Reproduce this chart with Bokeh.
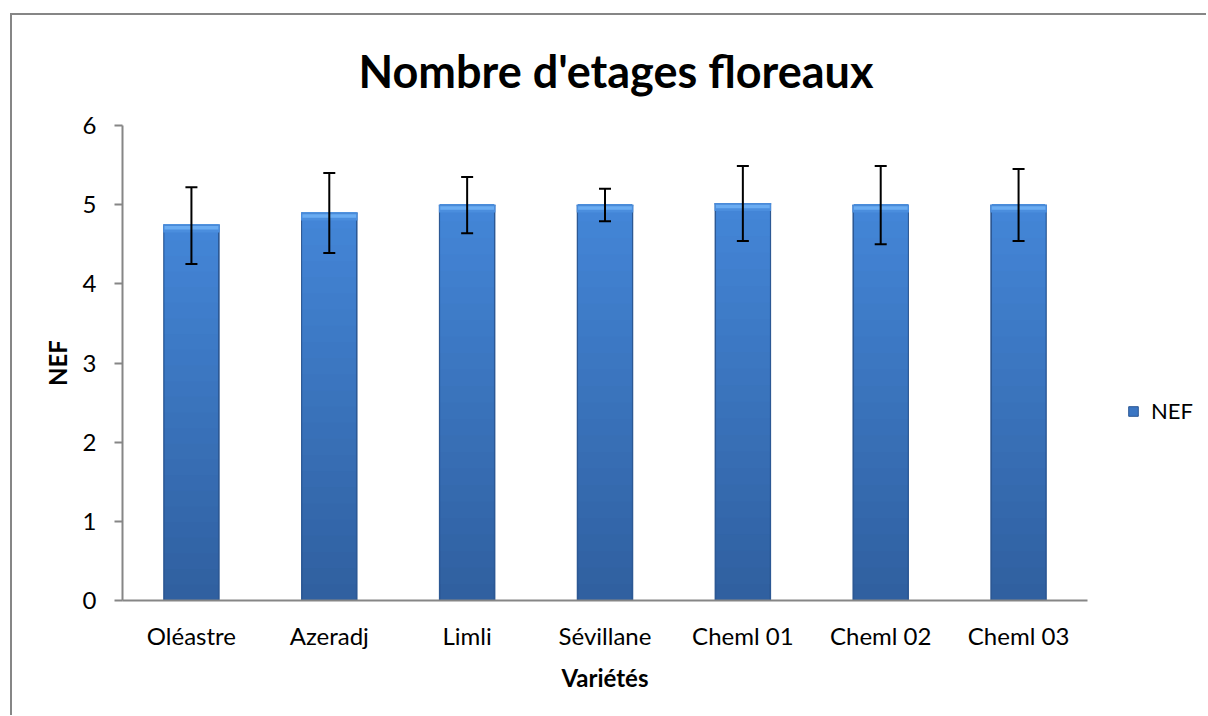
from bokeh.plotting import figure
from bokeh.layouts import row
from bokeh.models import (ColumnDataSource, Whisker, FactorRange, Range1d, Legend,
                          LegendItem, TeeHead, FixedTicker)
from bokeh.embed import file_html
from bokeh.resources import INLINE

categories = ["Oléastre", "Azeradj", "Limli", "Sévillane", "Cheml 01", "Cheml 02", "Cheml 03"]
nef = [4.75, 4.90, 5.00, 5.00, 5.02, 5.00, 5.00]
err_upper = [5.22, 5.40, 5.35, 5.20, 5.49, 5.49, 5.45]
err_lower = [4.25, 4.39, 4.64, 4.79, 4.54, 4.50, 4.54]
y_ticks = [0, 1, 2, 3, 4, 5, 6]
series_name = "NEF"

FONT = "Lato"
H = 700
W_MAIN = 1085
W_LEG = 109

p = figure(x_range=FactorRange(*categories, range_padding=0), y_range=Range1d(0, 6),
           width=W_MAIN, height=H, output_backend="svg", toolbar_location=None,
           min_border_left=110, min_border_right=10, min_border_top=110, min_border_bottom=115)

p.title.text = "Nombre d'etages floreaux"
p.title.align = "left"
p.title.vertical_align = "middle"
p.title.text_font = FONT
p.title.text_font_size = "45px"
p.title.text_font_style = "bold"
p.title.text_color = "black"
p.title.standoff = 54
p.title.offset = 236

p.outline_line_color = None
p.xgrid.grid_line_color = None
p.ygrid.grid_line_color = None
p.background_fill_color = "white"
p.border_fill_color = "white"

# bars: dark edge, vertical gradient body, light top bevel
src = ColumnDataSource(dict(x=categories, top=nef, upper=err_upper, lower=err_lower))
p.vbar(x="x", top="top", bottom=0, width=0.41, source=src,
       fill_color="#2c5894", line_color=None)

def mix(c1, c2, t):
    a = [int(c1[i:i + 2], 16) for i in (1, 3, 5)]
    b = [int(c2[i:i + 2], 16) for i in (1, 3, 5)]
    return "#%02x%02x%02x" % tuple(round(a[k] + (b[k] - a[k]) * t) for k in range(3))

n = 24
for i in range(n):
    f = i / n
    p.vbar(x=categories, top=nef, bottom=[v * f for v in nef], width=0.385,
           fill_color=mix("#3060a0", "#4487d9", f), line_color=None)

p.vbar(x=categories, top=nef, bottom=[v - 0.10 for v in nef], width=0.41,
       fill_color="#4b8ede", line_color=None)
p.vbar(x=categories, top=nef, bottom=[v - 0.065 for v in nef], width=0.39,
       fill_color="#6aacf2", line_color=None)
p.vbar(x=categories, top=nef, bottom=[v - 0.02 for v in nef], width=0.41,
       fill_color="#4a8ad8", line_color=None)

w = Whisker(base="x", upper="upper", lower="lower", source=src, level="overlay",
            line_color="black", line_width=2,
            upper_head=TeeHead(size=12, line_width=2, line_color="black"),
            lower_head=TeeHead(size=12, line_width=2, line_color="black"))
p.add_layout(w)

# axes
ax_col = "#868686"
p.yaxis.ticker = FixedTicker(ticks=y_ticks)
p.yaxis.axis_line_color = ax_col
p.yaxis.axis_line_width = 2
p.yaxis.major_tick_line_color = ax_col
p.yaxis.major_tick_line_width = 2
p.yaxis.major_tick_out = 8
p.yaxis.major_tick_in = 0
p.yaxis.minor_tick_line_color = None
p.yaxis.major_label_text_font = FONT
p.yaxis.major_label_text_font_size = "24px"
p.yaxis.major_label_text_color = "black"
p.yaxis.major_label_standoff = 18
p.yaxis.axis_label = "NEF"
p.yaxis.axis_label_text_font = FONT
p.yaxis.axis_label_text_font_size = "24px"
p.yaxis.axis_label_text_font_style = "bold"
p.yaxis.axis_label_text_color = "black"
p.yaxis.axis_label_standoff = 8

p.xaxis.axis_line_color = ax_col
p.xaxis.axis_line_width = 2
p.xaxis.major_tick_line_color = None
p.xaxis.minor_tick_line_color = None
p.xaxis.major_label_text_font = FONT
p.xaxis.major_label_text_font_size = "24px"
p.xaxis.major_label_text_color = "black"
p.xaxis.major_label_standoff = 14
p.xaxis.axis_label = "Variétés"
p.xaxis.axis_label_text_font = FONT
p.xaxis.axis_label_text_font_size = "24px"
p.xaxis.axis_label_text_font_style = "bold"
p.xaxis.axis_label_text_color = "black"
p.xaxis.axis_label_standoff = 10

# legend panel (its renderer holds no visible data; only the legend swatch shows)
q = figure(width=W_LEG, height=H, output_backend="svg", toolbar_location=None,
           x_range=Range1d(0, 1), y_range=Range1d(0, 1),
           x_axis_location=None, y_axis_location=None, min_border=0)
q.outline_line_color = None
q.xgrid.grid_line_color = None
q.ygrid.grid_line_color = None
q.border_fill_color = "white"
leg_r = q.vbar(x=[5], top=[6], bottom=[5], width=0.1,
               fill_color="#3b76c3", line_color="#2c5894")
legend = Legend(items=[LegendItem(label=series_name, renderers=[leg_r])],
                location=(30, 176), border_line_color=None,
                background_fill_alpha=0, label_text_font=FONT,
                label_text_color="black",
                label_text_font_size="22px", glyph_width=12, glyph_height=12,
                label_standoff=12, padding=0, margin=0)
q.add_layout(legend, "center")

layout = row(p, q, spacing=0,
             styles={"margin-left": "10px", "margin-top": "13px",
                     "border-left": "2px solid #868686", "border-top": "2px solid #868686"})

open("out.html", "w").write(file_html(layout, INLINE))
